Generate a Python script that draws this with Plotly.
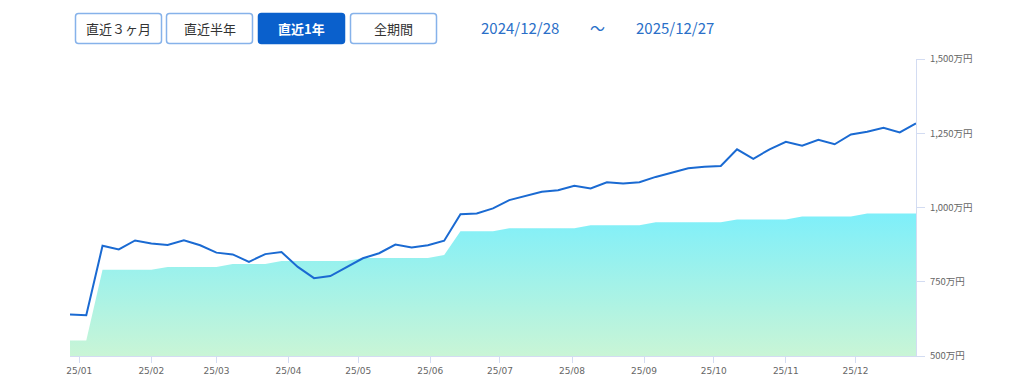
import plotly.graph_objects as go
import pandas as pd

# ---- data ----
dates = pd.date_range("2024-12-28", "2025-12-27", freq="7D")
valuation = [640, 637, 871, 859, 889, 879, 874, 890, 873, 848, 842, 817,
             843, 850, 800, 762, 769, 799, 829, 846, 875, 865, 873, 888,
             977, 980, 997, 1025, 1039, 1053, 1058, 1073, 1064, 1085, 1081, 1085,
             1103, 1117, 1132, 1137, 1140, 1196, 1164, 1196, 1221, 1208, 1228,
             1213, 1246, 1255, 1268, 1253, 1283]
principal = [552, 552, 790, 790, 790, 790, 800, 800, 800, 800, 810, 810,
             810, 820, 820, 820, 820, 820, 830, 830, 830, 830, 830, 840,
             920, 920, 920, 930, 930, 930, 930, 930, 940, 940, 940, 940,
             950, 950, 950, 950, 950, 960, 960, 960, 960, 970, 970,
             970, 970, 980, 980, 980, 980]
y_ticks = [500, 750, 1000, 1250, 1500]
y_tick_labels = [f"{v:,}万円" for v in y_ticks]
month_ticks = pd.date_range("2025-01-01", "2025-12-01", freq="MS")
buttons = ["直近３ヶ月", "直近半年", "直近1年", "全期間"]
active_button = "直近1年"
date_from = "2024/12/28"
date_to = "2025/12/27"

# page body has an 8px margin; positions below are page pixels
OFF = 8
W, H = 1016, 370
L, T = 70 - OFF, 59 - OFF
PR, PB = 916 - OFF, 356 - OFF          # plot right / bottom in figure pixels
R, B = W - PR, H - PB
PW, PH = PR - L, PB - T

def px2paper(x, y):
    x -= OFF
    y -= OFF
    return (x - L) / PW, (PB - y) / PH

def rounded_rect(x0, y0, x1, y1, r=3):
    def p(x, y):
        a, b = px2paper(x, y)
        return f"{a:.5f},{b:.5f}"
    return (f"M {p(x0 + r, y0)} L {p(x1 - r, y0)} Q {p(x1, y0)} {p(x1, y0 + r)} "
            f"L {p(x1, y1 - r)} Q {p(x1, y1)} {p(x1 - r, y1)} "
            f"L {p(x0 + r, y1)} Q {p(x0, y1)} {p(x0, y1 - r)} "
            f"L {p(x0, y0 + r)} Q {p(x0, y0)} {p(x0 + r, y0)} Z")

fig = go.Figure()
fig.add_trace(go.Scatter(
    x=dates, y=principal, mode="lines", line=dict(width=0, color="rgba(0,0,0,0)"),
    fill="tozeroy",
    fillgradient=dict(type="vertical", colorscale=[[0, "#c9f5d6"], [1, "#7eeffa"]],
                      start=500, stop=980),
    hoverinfo="skip", showlegend=False))
fig.add_trace(go.Scatter(
    x=dates, y=valuation, mode="lines", line=dict(width=2, color="#1a6ad2"),
    showlegend=False))

shapes = []
annotations = []
FONT = "Noto Sans CJK JP"
bx = [(75, 162), (166, 253), (258, 345), (350, 437)]
for (x0, x1), label in zip(bx, buttons):
    active = label == active_button
    shapes.append(dict(type="path", xref="paper", yref="paper",
                       path=rounded_rect(x0 + 0.5, 13.5, x1 - 0.5, 43.5),
                       line=dict(color="#0a60cc" if active else "#86b2ea", width=1.5),
                       fillcolor="#0a60cc" if active else "white", layer="above"))
    cx, cy = px2paper((x0 + x1) / 2, 28.5)
    annotations.append(dict(xref="paper", yref="paper", x=cx, y=cy,
                            text=(f"<b>{label}</b>" if active else label),
                            showarrow=False, xanchor="center", yanchor="middle",
                            font=dict(family=FONT, size=13, color="white" if active else "#333333")))

for txt, xc in [(date_from, 520), ("〜", 597), (date_to, 675)]:
    cx, cy = px2paper(xc, 28)
    annotations.append(dict(xref="paper", yref="paper", x=cx, y=cy, text=txt, showarrow=False,
                            xanchor="center", yanchor="middle",
                            font=dict(family=FONT, size=15, color="#2a6fc8")))

fig.update_layout(
    width=W, height=H, margin=dict(l=L, r=R, t=T, b=B, pad=0, autoexpand=False),
    paper_bgcolor="white", plot_bgcolor="white",
    shapes=shapes, annotations=annotations, hovermode="x",
    xaxis=dict(range=[dates[0], dates[-1]], tickvals=list(month_ticks), tickformat="%y/%m",
               automargin=False,
               showgrid=False, zeroline=False, showline=True, linecolor="#d3dcf2", linewidth=1,
               ticks="outside", ticklen=6, tickcolor="#d3dcf2",
               tickfont=dict(family="DejaVu Sans, sans-serif", size=9, color="#666666")),
    yaxis=dict(range=[500, 1500], side="right", tickvals=y_ticks, ticktext=y_tick_labels,
               automargin=False, ticklabelstandoff=3,
               showgrid=False, zeroline=False, showline=True,
               linecolor="#d3dcf2", linewidth=1, ticks="outside", ticklen=8, tickcolor="#d3dcf2",
               tickfont=dict(family=FONT, size=9.5, color="#666666")),
)
fig.write_html("out.html")
